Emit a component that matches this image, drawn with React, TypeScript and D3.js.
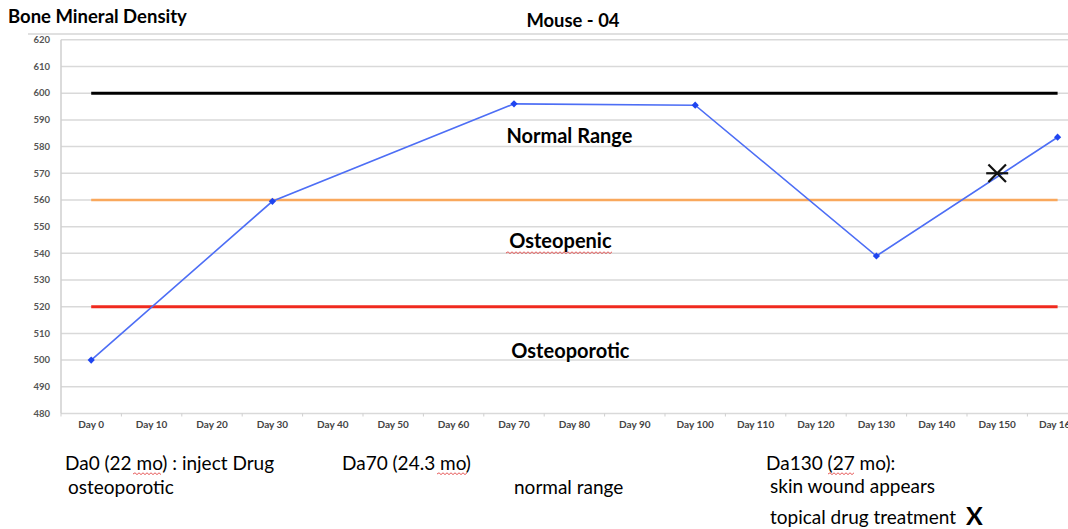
import React from "react";
import * as d3 from "d3";

const days: number[] = [0, 10, 20, 30, 40, 50, 60, 70, 80, 90, 100, 110, 120, 130, 140, 150, 160];
const categories: string[] = days.map((d) => `Day ${d}`);
const bmdDays: number[] = [0, 30, 70, 100, 130, 160];
const bmdValues: number[] = [500, 559.5, 596, 595.5, 539, 583.5];
const yTicks: number[] = [480, 490, 500, 510, 520, 530, 540, 550, 560, 570, 580, 590, 600, 610, 620];
const refLines = [
  { value: 600, color: "#000000", width: 3 },
  { value: 560, color: "#f9a85c", width: 2.5 },
  { value: 520, color: "#f02a1e", width: 3 },
];
const zoneLabels = [
  { text: "Normal Range", value: 581.3, dx: -5 },
  { text: "Osteopenic", value: 542, dx: -14 },
  { text: "Osteoporotic", value: 500.8, dx: -4 },
];
const zoneDay = 80;
const markerPoint = { day: 150, value: 570 };

const W = 1068;
const H = 529;
const FONT = "Lato, 'Open Sans', 'DejaVu Sans', sans-serif";

export default function App() {
  const x = d3.scaleBand<string>().domain(categories).range([61, 61 + 60.4 * categories.length]).padding(0);
  const y = d3.scaleLinear().domain([480, 620]).range([413.5, 39.8]);
  const cx = (d: number) => (x(`Day ${d}`) as number) + x.bandwidth() / 2;

  const line = d3
    .line<number>()
    .x((_, i) => cx(bmdDays[i]))
    .y((v) => y(v));

  const marker = d3.symbol().type(d3.symbolSquare).size(26)();

  const mx = cx(markerPoint.day);
  const my = y(markerPoint.value);
  const r = 11;

  const squiggle = (x0: number, x1: number, yy: number) => {
    let p = `M${x0},${yy}`;
    let up = true;
    for (let xx = x0 + 2; xx <= x1; xx += 2) {
      p += ` L${xx},${yy + (up ? -1.2 : 0.6)}`;
      up = !up;
    }
    return p;
  };

  return (
    <svg width={W} height={H} style={{ position: "absolute", left: 0, top: 0, background: "#fff" }} fontFamily={FONT}>
      {/* top border line */}
      <line x1={28} x2={W} y1={34} y2={34} stroke="#d6d6d6" strokeWidth={1.5} />
      {/* gridlines */}
      {yTicks.map((t) => (
        <line key={t} x1={61} x2={W} y1={y(t)} y2={y(t)} stroke="#d9d9d9" strokeWidth={1.5} />
      ))}
      {/* y axis */}
      <line x1={61} x2={61} y1={y(620)} y2={y(480)} stroke="#cfcfcf" strokeWidth={1.5} />
      {yTicks.map((t) => (
        <text key={t} x={50} y={y(t) + 3.3} textAnchor="end" fontSize={9.5} fill="#555" fontWeight="bold">
          {t}
        </text>
      ))}
      {/* x axis tick marks */}
      {categories.map((c) => (
        <line key={c} x1={(x(c) as number)} x2={(x(c) as number)} y1={y(480)} y2={y(480) + 3} stroke="#cfcfcf" strokeWidth={1} />
      ))}
      {categories.map((c) => (
        <text key={c} x={(x(c) as number) + x.bandwidth() / 2} y={428} textAnchor="middle" fontSize={10} fill="#444" fontWeight="bold">
          {c}
        </text>
      ))}
      {/* reference lines */}
      {refLines.map((r) => (
        <line key={r.value} x1={cx(0)} x2={cx(160)} y1={y(r.value)} y2={y(r.value)} stroke={r.color} strokeWidth={r.width} />
      ))}
      {/* series */}
      <path d={line(bmdValues) as string} fill="none" stroke="#4d6ef5" strokeWidth={1.6} />
      {bmdValues.map((v, i) => (
        <path key={i} d={marker as string} transform={`translate(${cx(bmdDays[i])},${y(v)}) rotate(45)`} fill="#1f45f0" />
      ))}
      {/* asterisk marker */}
      <g stroke="#111" strokeWidth={2.2}>
        <line x1={mx - r} x2={mx + r} y1={my} y2={my} />
        <line x1={mx - r * 0.8} x2={mx + r * 0.8} y1={my - r * 0.8} y2={my + r * 0.8} />
        <line x1={mx - r * 0.8} x2={mx + r * 0.8} y1={my + r * 0.8} y2={my - r * 0.8} />
      </g>
      {/* zone labels */}
      {zoneLabels.map((z) => (
        <text key={z.text} x={cx(zoneDay) + z.dx} y={y(z.value)} textAnchor="middle" fontSize={20} fontWeight="bold" fill="#000">
          {z.text}
        </text>
      ))}
      <path d={squiggle(506, 612, 253)} fill="none" stroke="#e03030" strokeWidth={0.8} />
      {/* titles */}
      <text x={8} y={23} fontSize={18.5} fontWeight="bold" fill="#000">Bone Mineral Density</text>
      <text x={573} y={27} textAnchor="middle" fontSize={18.4} fontWeight="bold" fill="#000">Mouse - 04</text>
      {/* annotations */}
      <g fontSize={19} fill="#000">
        <text x={65} y={470}>Da0 (22 mo) : inject Drug</text>
        <text x={68} y={494}>osteoporotic</text>
        <text x={342} y={470}>Da70 (24.3 mo)</text>
        <text x={514} y={494}>normal range</text>
        <text x={766} y={470}>Da130 (27 mo):</text>
        <text x={770} y={493}>skin wound appears</text>
        <text x={770} y={524}>topical drug treatment</text>
        <text x={966} y={525} fontSize={25} fontWeight="bold">X</text>
      </g>
      <path d={squiggle(133, 162, 474)} fill="none" stroke="#e03030" strokeWidth={0.8} />
      <path d={squiggle(437, 468, 474)} fill="none" stroke="#e03030" strokeWidth={0.8} />
      <path d={squiggle(828, 854, 474)} fill="none" stroke="#e03030" strokeWidth={0.8} />
    </svg>
  );
}
